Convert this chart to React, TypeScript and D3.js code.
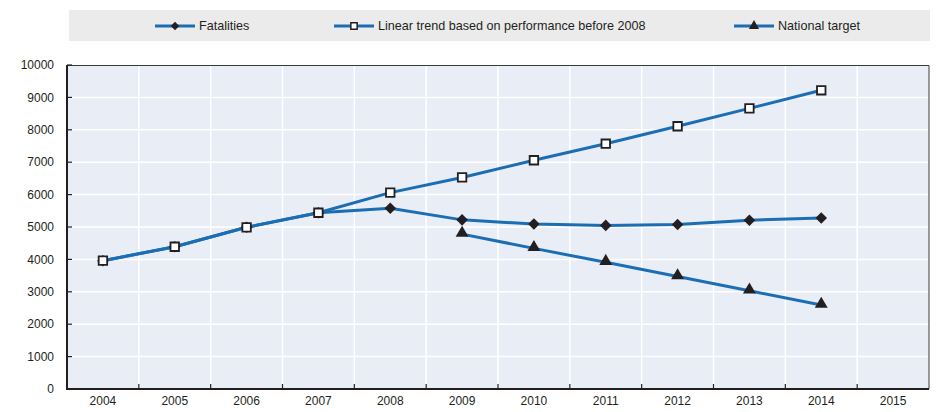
import React, { useEffect, useRef } from "react";
import * as d3 from "d3";

const years = [
  "2004", "2005", "2006", "2007", "2008", "2009",
  "2010", "2011", "2012", "2013", "2014", "2015",
];

const fatalities = [3960, 4390, 4990, 5440, 5580, 5220, 5090, 5050, 5080, 5210, 5280];
const trendYears = ["2004", "2005", "2006", "2007", "2008", "2009", "2010", "2011", "2012", "2013", "2014"];
const trend = [3960, 4390, 4990, 5440, 6060, 6530, 7060, 7570, 8110, 8660, 9220];
const targetYears = ["2009", "2010", "2011", "2012", "2013", "2014"];
const target = [4780, 4340, 3910, 3470, 3030, 2590];

const yTicks = [0, 1000, 2000, 3000, 4000, 5000, 6000, 7000, 8000, 9000, 10000];

const BLUE = "#1b6eb4";
const DARK = "#231f20";
const FONT = "'Liberation Sans', Arial, sans-serif";

const WIDTH = 946;
const HEIGHT = 412;

export default function App() {
  const ref = useRef<SVGSVGElement | null>(null);

  useEffect(() => {
    const margin = { top: 65, right: 17, bottom: 23, left: 67 };
    const w = WIDTH - margin.left - margin.right;
    const h = HEIGHT - margin.top - margin.bottom;

    const root = d3.select(ref.current);
    root.selectAll("*").remove();
    root.attr("width", WIDTH).attr("height", HEIGHT);

    // Legend box
    const legend = root.append("g");
    legend
      .append("rect")
      .attr("x", 69)
      .attr("y", 10)
      .attr("width", 861)
      .attr("height", 31)
      .attr("fill", "#ebebeb");

    const svg = root
      .append("g")
      .attr("transform", `translate(${margin.left},${margin.top})`);

    const x = d3.scaleBand().domain(years).range([0, w]);
    const y = d3.scaleLinear().domain([0, 10000]).range([h, 0]);
    const cx = (yr: string) => (x(yr) ?? 0) + x.bandwidth() / 2;

    // Plot background
    svg
      .append("rect")
      .attr("width", w)
      .attr("height", h)
      .attr("fill", "#e9edf6");

    // Horizontal grid
    svg
      .selectAll(".hgrid")
      .data(yTicks.slice(1))
      .enter()
      .append("line")
      .attr("x1", 0)
      .attr("x2", w)
      .attr("y1", (d) => y(d))
      .attr("y2", (d) => y(d))
      .attr("stroke", "#fff")
      .attr("stroke-width", 1.5);

    // Vertical grid at band boundaries
    const bounds = years.slice(1).map((yr) => x(yr) ?? 0);
    svg
      .selectAll(".vgrid")
      .data(bounds)
      .enter()
      .append("line")
      .attr("x1", (d) => d)
      .attr("x2", (d) => d)
      .attr("y1", 0)
      .attr("y2", h)
      .attr("stroke", "#fff")
      .attr("stroke-width", 1.5);

    // Frame top / right
    svg
      .append("path")
      .attr("d", `M0,0.5H${w}V${h}`)
      .attr("fill", "none")
      .attr("stroke", "#3a3a3a")
      .attr("stroke-width", 1);

    // Y ticks and labels
    yTicks.forEach((t) => {
      svg
        .append("line")
        .attr("x1", 0)
        .attr("x2", 5)
        .attr("y1", y(t))
        .attr("y2", y(t))
        .attr("stroke", DARK)
        .attr("stroke-width", 1.2);
      svg
        .append("text")
        .attr("x", -13)
        .attr("y", y(t))
        .attr("dy", "0.35em")
        .attr("text-anchor", "end")
        .attr("fill", DARK)
        .style("font-size", "12px")
        .style("font-family", FONT)
        .text(t);
    });

    // X ticks and labels
    bounds.forEach((b) => {
      svg
        .append("line")
        .attr("x1", b)
        .attr("x2", b)
        .attr("y1", h)
        .attr("y2", h - 5)
        .attr("stroke", DARK)
        .attr("stroke-width", 1.2);
    });
    years.forEach((yr) => {
      svg
        .append("text")
        .attr("x", cx(yr))
        .attr("y", h + 12)
        .attr("dy", "0.35em")
        .attr("text-anchor", "middle")
        .attr("fill", DARK)
        .style("font-size", "12px")
        .style("font-family", FONT)
        .text(yr);
    });

    // Axes lines
    svg
      .append("path")
      .attr("d", `M0,0V${h}H${w}`)
      .attr("fill", "none")
      .attr("stroke", DARK)
      .attr("stroke-width", 2);

    const line = d3
      .line<[string, number]>()
      .x((d) => cx(d[0]))
      .y((d) => y(d[1]));

    const drawSeries = (xs: string[], vs: number[]) => {
      const pts = xs.map((yr, i) => [yr, vs[i]] as [string, number]);
      svg
        .append("path")
        .datum(pts)
        .attr("d", line)
        .attr("fill", "none")
        .attr("stroke", BLUE)
        .attr("stroke-width", 3);
      return pts;
    };

    const trendPts = drawSeries(trendYears, trend);
    const fatPts = drawSeries(years.slice(0, fatalities.length), fatalities);
    const tgtPts = drawSeries(targetYears, target);

    const diamond = d3.symbol().type(d3.symbolDiamond2).size(85);
    const square = d3.symbol().type(d3.symbolSquare).size(72);
    const triangle = d3.symbol().type(d3.symbolTriangle).size(72);

    svg
      .selectAll(".fat")
      .data(fatPts)
      .enter()
      .append("path")
      .attr("transform", (d) => `translate(${cx(d[0])},${y(d[1])})`)
      .attr("d", diamond)
      .attr("fill", DARK);

    svg
      .selectAll(".tgt")
      .data(tgtPts)
      .enter()
      .append("path")
      .attr("transform", (d) => `translate(${cx(d[0])},${y(d[1]) - 1})`)
      .attr("d", triangle)
      .attr("fill", DARK);

    svg
      .selectAll(".trend")
      .data(trendPts)
      .enter()
      .append("path")
      .attr("transform", (d) => `translate(${cx(d[0])},${y(d[1])})`)
      .attr("d", square)
      .attr("fill", "#fff")
      .attr("stroke", DARK)
      .attr("stroke-width", 1.8);

    // Legend entries
    const items = [
      { label: "Fatalities", x: 155, sym: "diamond" },
      { label: "Linear trend based on performance before 2008", x: 334, sym: "square" },
      { label: "National target", x: 734, sym: "triangle" },
    ];
    const ly = 26;
    items.forEach((it) => {
      legend
        .append("line")
        .attr("x1", it.x)
        .attr("x2", it.x + 40)
        .attr("y1", ly)
        .attr("y2", ly)
        .attr("stroke", BLUE)
        .attr("stroke-width", 3);
      const m = legend
        .append("path")
        .attr("transform", `translate(${it.x + 20},${ly})`);
      if (it.sym === "diamond") {
        m.attr("d", d3.symbol().type(d3.symbolDiamond2).size(45)).attr("fill", DARK);
      } else if (it.sym === "square") {
        m.attr("d", d3.symbol().type(d3.symbolSquare).size(40))
          .attr("fill", "#fff")
          .attr("stroke", DARK)
          .attr("stroke-width", 1.5);
      } else {
        m.attr("d", d3.symbol().type(d3.symbolTriangle).size(45)).attr("fill", DARK);
      }
      legend
        .append("text")
        .attr("x", it.x + 44)
        .attr("y", ly)
        .attr("dy", "0.35em")
        .attr("fill", DARK)
        .style("font-size", "12.6px")
        .style("font-family", FONT)
        .text(it.label);
    });
  }, []);

  return (
    <div style={{ position: "absolute", left: 0, top: 0 }}>
      <svg ref={ref}></svg>
    </div>
  );
}
